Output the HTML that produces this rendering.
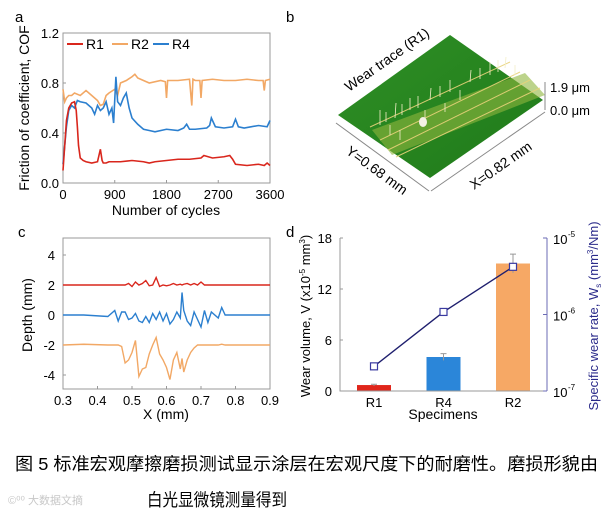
<!DOCTYPE html>
<html><head><meta charset="utf-8"><style>
body{margin:0;background:#fff;width:610px;height:515px;overflow:hidden;font-family:"Liberation Sans","Noto Sans CJK SC",sans-serif}
svg{position:absolute;left:0;top:0}
text{font-family:"Liberation Sans","Noto Sans CJK SC",sans-serif}
</style></head><body>
<svg id="fig" width="610" height="515" viewBox="0 0 610 515">
<defs>
<linearGradient id="gr" x1="0" y1="0" x2="1" y2="1"><stop offset="0" stop-color="#2f8f25"/><stop offset="1" stop-color="#1f7a1a"/></linearGradient>
</defs>
<g>
<text x="286" y="22" font-size="15">b</text>
<polygon points="450,35 543,100 430,178 338,115" fill="url(#gr)"/>
<polygon points="525,73 372,130 392,155 545,95" fill="#8fb53e" opacity="0.6"/>
<g stroke="#e8d27a" stroke-width="1" opacity="0.9">
<line x1="370" y1="127" x2="510" y2="62"/><line x1="380" y1="140" x2="520" y2="72"/><line x1="388" y1="150" x2="530" y2="80"/><line x1="396" y1="157" x2="540" y2="88"/>
</g>
<g stroke="#f3efc8" stroke-width="0.8">
<line x1="380" y1="125" x2="380" y2="110"/><line x1="395" y1="118" x2="396" y2="103"/><line x1="410" y1="110" x2="410" y2="98"/><line x1="430" y1="100" x2="431" y2="88"/><line x1="450" y1="92" x2="450" y2="80"/><line x1="470" y1="82" x2="471" y2="70"/><line x1="490" y1="75" x2="490" y2="62"/><line x1="505" y1="68" x2="506" y2="57"/><line x1="425" y1="118" x2="425" y2="110"/><line x1="460" y1="100" x2="460" y2="90"/><line x1="515" y1="75" x2="515" y2="65"/><line x1="390" y1="135" x2="390" y2="125"/>
<line x1="386" y1="122" x2="386" y2="112"/><line x1="402" y1="115" x2="402" y2="104"/><line x1="418" y1="108" x2="418" y2="96"/><line x1="440" y1="97" x2="440" y2="86"/><line x1="480" y1="79" x2="480" y2="68"/><line x1="498" y1="72" x2="498" y2="60"/><line x1="400" y1="140" x2="400" y2="130"/><line x1="445" y1="112" x2="445" y2="103"/>
</g>
<ellipse cx="423" cy="122" rx="4" ry="5" fill="#f4f1e6"/>
<line x1="336" y1="123" x2="429" y2="191" stroke="#888"/>
<line x1="431" y1="191" x2="545" y2="112" stroke="#888"/>
<line x1="545" y1="82" x2="545" y2="110" stroke="#888"/>
<text x="550" y="92" font-size="13">1.9 μm</text>
<text x="550" y="115" font-size="13">0.0 μm</text>
<text transform="translate(349,92) rotate(-35)" font-size="14">Wear trace (R1)</text>
<text transform="translate(345,153) rotate(36)" font-size="14">Y=0.68 mm</text>
<text transform="translate(474,190) rotate(-35)" font-size="14">X=0.82 mm</text>
</g>
<text x="15" y="22" font-size="15">a</text>
<text x="18" y="237" font-size="15">c</text>
<text x="286" y="237" font-size="15">d</text>
<g id="pa"></g>
<g id="pc"></g>
<g id="pd"></g>
<text x="15" y="470" font-size="17.5" textLength="583" lengthAdjust="spacingAndGlyphs">图 5 标准宏观摩擦磨损测试显示涂层在宏观尺度下的耐磨性。磨损形貌由</text>
<text x="147" y="506" font-size="17.5" textLength="140" lengthAdjust="spacingAndGlyphs">白光显微镜测量得到</text>
<text x="8" y="504" font-size="11" fill="#c8c8c8">©⁰⁰ 大数据文摘</text>
</svg>
<script>
const NS='http://www.w3.org/2000/svg';
// ---- panel a data ----
const cofX_R1=[0,30,60,100,150,200,230,250,270,300,350,400,500,600,650,680,700,750,800,1000,1200,1400,1500,1600,1800,2000,2200,2400,2450,2600,2800,2900,2950,3000,3200,3400,3500,3550,3600];
const cofR1=[0.1,0.3,0.5,0.6,0.64,0.65,0.58,0.45,0.3,0.2,0.18,0.17,0.16,0.17,0.27,0.18,0.16,0.16,0.17,0.17,0.18,0.17,0.16,0.17,0.18,0.19,0.19,0.2,0.22,0.2,0.21,0.22,0.19,0.15,0.14,0.15,0.14,0.16,0.14];
const cofX_R2=[0,30,60,100,150,200,300,400,500,600,650,700,750,800,900,950,1000,1100,1200,1250,1300,1400,1500,1700,1780,1800,1820,2000,2200,2240,2260,2300,2380,2400,2420,2600,2800,3000,3200,3400,3480,3500,3520,3600];
const cofR2=[0.75,0.65,0.68,0.7,0.7,0.72,0.7,0.74,0.7,0.66,0.62,0.63,0.7,0.72,0.75,0.7,0.8,0.82,0.85,0.87,0.84,0.82,0.8,0.82,0.81,0.68,0.82,0.82,0.83,0.62,0.83,0.82,0.82,0.68,0.82,0.83,0.82,0.82,0.83,0.82,0.82,0.74,0.82,0.83];
const cofX_R4=[0,30,60,100,150,200,250,300,400,500,550,600,650,700,750,800,850,880,920,950,1000,1050,1100,1150,1200,1300,1400,1500,1600,1800,2000,2100,2150,2200,2300,2500,2550,2580,2650,2800,2950,3000,3050,3150,3400,3550,3600];
const cofR4=[0.15,0.3,0.45,0.58,0.62,0.6,0.66,0.65,0.64,0.6,0.55,0.62,0.58,0.6,0.65,0.55,0.6,0.48,0.85,0.65,0.62,0.68,0.72,0.6,0.52,0.47,0.43,0.42,0.41,0.43,0.42,0.44,0.47,0.43,0.43,0.44,0.46,0.52,0.45,0.44,0.45,0.51,0.45,0.44,0.46,0.45,0.5];
const aXTicks=[0,900,1800,2700,3600];
const aYTicks=[0.0,0.4,0.8,1.2];
// ---- panel c data ----
const profX=[0.30,0.36,0.43,0.45,0.46,0.47,0.48,0.49,0.50,0.51,0.52,0.53,0.54,0.55,0.56,0.57,0.58,0.59,0.60,0.61,0.62,0.63,0.64,0.645,0.65,0.66,0.67,0.68,0.69,0.70,0.71,0.72,0.73,0.75,0.76,0.77,0.80,0.86,0.90];
const profR1=[2,2,2,2,2,2,2,2.1,1.9,2.2,2.0,2.1,2.3,1.95,2.0,2.5,1.9,2.0,1.95,2.0,2.1,2.0,2.05,2.0,2.05,2.1,2.0,2.1,2.0,2.2,2.0,2,2,2,2,2,2,2,2];
const profR4=[0,0,-0.1,0.3,-0.4,0.2,0.2,-0.3,-0.2,0.1,-0.4,-0.5,-0.1,-0.5,0.1,-0.3,0.2,-0.4,0.1,-0.6,-0.3,0.2,-0.2,1.5,0.3,-0.4,-0.7,0.2,-0.3,-0.8,0.3,-0.5,0.2,-0.2,0.5,0,0,0,0];
const profR2=[-2,-1.95,-2,-2,-2,-2.1,-3.2,-3,-2.5,-1.7,-4.1,-3.6,-3.5,-2.6,-2.0,-1.5,-2.6,-3.0,-3.5,-4.3,-3.0,-2.5,-3.6,-2.9,-3.8,-3.0,-2.5,-2.2,-2,-2,-2,-2,-2,-2,-1.95,-2,-2,-2,-2];
const cXTicks=[0.3,0.4,0.5,0.6,0.7,0.8,0.9];
const cYTicks=[-4,-2,0,2,4];
// ---- panel d data ----
const specimens=['R1','R4','R2'];
const wearVolume=[0.7,4.0,15.0];
const wearErr=[0.1,0.4,1.1];
const wearRate=[2.1e-7,1.08e-6,4.2e-6];
const dYTicks=[0,6,12,18];
const dRTicks=[-7,-6,-5];
const barColors=['#e0261b','#2b86d9','#f6a865'];

function el(tag,attrs,parent){const e=document.createElementNS(NS,tag);for(const k in attrs)e.setAttribute(k,attrs[k]);parent.appendChild(e);return e;}
function txt(s,attrs,parent){const t=el('text',attrs,parent);t.textContent=s;return t;}

// panel a
(function(){
 const g=document.getElementById('pa');
 const L=63,R=270,T=33,B=183;
 const sx=v=>L+(v/3600)*(R-L), sy=v=>B-(v/1.2)*(B-T);
 const fr=el('rect',{x:L,y:T,width:R-L,height:B-T,fill:'none',stroke:'#999'},g);
 
 aXTicks.forEach(v=>{const t=txt(String(v),{x:sx(v),y:B+16,'font-size':13,'text-anchor':'middle'},g);
  
  el('line',{x1:sx(v),x2:sx(v),y1:B,y2:B-3,stroke:'#999'},g);});
 aYTicks.forEach(v=>{const t=txt(v.toFixed(1),{x:L-4,y:sy(v)+5,'font-size':13,'text-anchor':'end'},g);
  
  el('line',{x1:L,x2:L+3,y1:sy(v),y2:sy(v),stroke:'#999'},g);});
 const ser=[[cofX_R2,cofR2,'#f2a865','series-r2'],[cofX_R4,cofR4,'#2b7fcf','series-r4'],[cofX_R1,cofR1,'#d9261c','series-r1']];
 ser.forEach(s=>{const p=el('polyline',{points:s[0].map((x,i)=>sx(x)+','+sy(s[1][i])).join(' '),fill:'none',stroke:s[2],'stroke-width':1.6},g);
  });
 const lg=[['R1',67,'#d9261c'],['R2',112,'#f2a865'],['R4',153,'#2b7fcf']];
 lg.forEach(l=>{const ln=el('line',{x1:l[1],x2:l[1]+16,y1:44,y2:44,stroke:l[2],'stroke-width':2},g);
  
  const t=txt(l[0],{x:l[1]+19,y:49,'font-size':14},g);
  });
 const xt=txt('Number of cycles',{x:166,y:215,'font-size':14,'text-anchor':'middle'},g);
 
 const yt=txt('Friction of coefficient, COF',{transform:'translate(29,108) rotate(-90)','font-size':14,'text-anchor':'middle'},g);
 
})();

// panel c
(function(){
 const g=document.getElementById('pc');
 const L=63,R=270,T=238,B=389;
 const sx=v=>L+(v-0.3)/0.6*(R-L), sy=v=>315-v*15;
 const fr=el('rect',{x:L,y:T,width:R-L,height:B-T,fill:'none',stroke:'#999'},g);
 
 cXTicks.forEach(v=>{const t=txt(v.toFixed(1),{x:sx(v),y:B+16,'font-size':13,'text-anchor':'middle'},g);
  
  el('line',{x1:sx(v),x2:sx(v),y1:B,y2:B-3,stroke:'#999'},g);});
 cYTicks.forEach(v=>{const t=txt(String(v),{x:L-8,y:sy(v)+5,'font-size':13,'text-anchor':'end'},g);
  
  el('line',{x1:L,x2:L+3,y1:sy(v),y2:sy(v),stroke:'#999'},g);});
 [[profR2,'#f2a865','profile-r2'],[profR4,'#2b7fcf','profile-r4'],[profR1,'#d9261c','profile-r1']].forEach(s=>{
  const p=el('polyline',{points:profX.map((x,i)=>sx(x)+','+sy(s[0][i])).join(' '),fill:'none',stroke:s[1],'stroke-width':1.4},g);
  });
 const xt=txt('X (mm)',{x:166,y:419,'font-size':14,'text-anchor':'middle'},g);
 
 const yt=txt('Depth (mm)',{transform:'translate(32,315) rotate(-90)','font-size':14,'text-anchor':'middle'},g);
 
})();

// panel d
(function(){
 const g=document.getElementById('pd');
 const L=340,R=547,T=238,B=391;
 const sy=v=>B-v/18*(B-T), sr=v=>B-(Math.log10(v)+7)/2*(B-T);
 const cx=i=>374+i*69.5;
 specimens.forEach((s,i)=>{
  const b=el('rect',{x:cx(i)-17,y:sy(wearVolume[i]),width:34,height:B-sy(wearVolume[i]),fill:barColors[i]},g);
  
  const e=el('path',{d:`M${cx(i)} ${sy(wearVolume[i]+wearErr[i])}V${sy(wearVolume[i]-wearErr[i])}M${cx(i)-3} ${sy(wearVolume[i]+wearErr[i])}h6`,stroke:'#999',fill:'none'},g);
  
  const t=txt(s,{x:cx(i),y:B+16,'font-size':13,'text-anchor':'middle'},g);
  
 });
 const fr=el('path',{d:`M${L} ${T}V${B}H${R}`,fill:'none',stroke:'#999'},g);
 
 const fr2=el('line',{x1:R,x2:R,y1:T,y2:B,stroke:'#6b6bb5'},g);
 
 dYTicks.forEach(v=>{const t=txt(String(v),{x:L-8,y:sy(v)+5,'font-size':13,'text-anchor':'end'},g);
  
  el('line',{x1:L,x2:L+3,y1:sy(v),y2:sy(v),stroke:'#999'},g);});
 dRTicks.forEach(v=>{const t=txt('10',{x:R+6,y:sr(10**v)+6,'font-size':13},g);
  
  txt(String(v),{x:R+21,y:sr(10**v)-1,'font-size':8},g);
  el('line',{x1:R,x2:R-4,y1:sr(10**v),y2:sr(10**v),stroke:'#6b6bb5'},g);});
 const ln=el('polyline',{points:wearRate.map((v,i)=>cx(i)+','+sr(v)).join(' '),fill:'none',stroke:'#1f1f6e','stroke-width':1.4},g);
 
 wearRate.forEach((v,i)=>{const m=el('rect',{x:cx(i)-3.5,y:sr(v)-3.5,width:7,height:7,fill:'#fff',stroke:'#3a3aa0','stroke-width':1.2},g);
  });
 const xt=txt('Specimens',{x:443,y:419,'font-size':14,'text-anchor':'middle'},g);
 
 const yt=el('text',{transform:'translate(310,316) rotate(-90)','font-size':13,'text-anchor':'middle'},g);
 yt.innerHTML='Wear volume, V (x10<tspan font-size="8" dy="-5">-5</tspan><tspan dy="5"> mm</tspan><tspan font-size="8" dy="-5">3</tspan><tspan dy="5">)</tspan>';
 
 const rt=el('text',{transform:'translate(598,316) rotate(-90)','font-size':13,'text-anchor':'middle',fill:'#2a2a8a'},g);
 rt.innerHTML='Specific wear rate, W<tspan font-size="8" dy="3">s</tspan><tspan dy="-3"> (mm</tspan><tspan font-size="8" dy="-5">3</tspan><tspan dy="5">/Nm)</tspan>';
 
})();
</script>
</body></html>
